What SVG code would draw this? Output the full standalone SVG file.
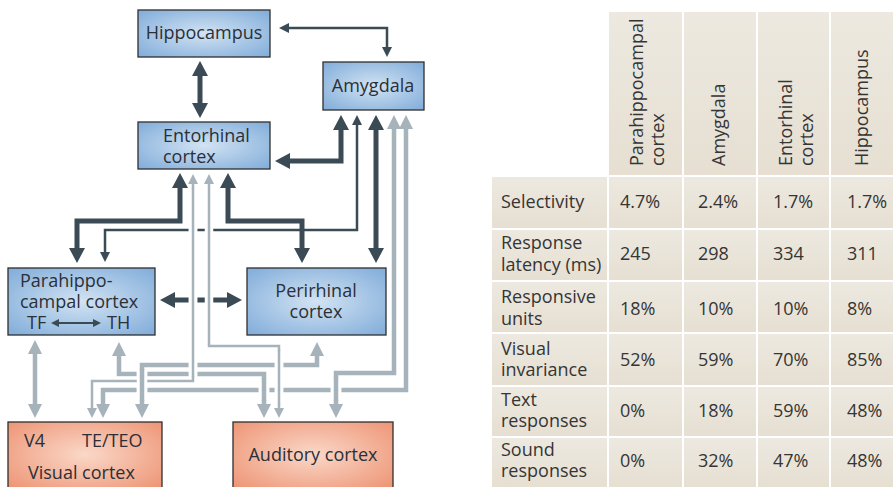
<svg xmlns="http://www.w3.org/2000/svg" width="893" height="487" viewBox="0 0 893 487">
<defs>
<radialGradient id="gBlue" cx="50%" cy="50%" r="65%">
<stop offset="0" stop-color="#d2e3f3"/><stop offset="1" stop-color="#86b0db"/>
</radialGradient>
<radialGradient id="gOrange" cx="50%" cy="45%" r="65%">
<stop offset="0" stop-color="#fad8c8"/><stop offset="1" stop-color="#ee9778"/>
</radialGradient>
<linearGradient id="gCell" x1="0" y1="0" x2="0" y2="1">
<stop offset="0" stop-color="#ede9e0"/><stop offset="1" stop-color="#e6dfd2"/>
</linearGradient>
<marker id="dT" markerUnits="userSpaceOnUse" markerWidth="20" markerHeight="20" refX="0" refY="8" orient="auto-start-reverse" viewBox="0 0 20 16"><path d="M0,0 L15,8 L0,16 Z" fill="#3a4b56"/></marker>
<marker id="dt" markerUnits="userSpaceOnUse" markerWidth="14" markerHeight="14" refX="0" refY="5" orient="auto-start-reverse" viewBox="0 0 14 10"><path d="M0,0 L10,5 L0,10 Z" fill="#3a4b56"/></marker>
<marker id="ds" markerUnits="userSpaceOnUse" markerWidth="10" markerHeight="10" refX="0" refY="4" orient="auto-start-reverse" viewBox="0 0 10 8"><path d="M0,0 L8,4 L0,8 Z" fill="#3a4b56"/></marker>
<marker id="lT" markerUnits="userSpaceOnUse" markerWidth="20" markerHeight="20" refX="0" refY="7" orient="auto-start-reverse" viewBox="0 0 20 14"><path d="M0,0 L14,7 L0,14 Z" fill="#a7b3bb"/></marker>
<marker id="lt" markerUnits="userSpaceOnUse" markerWidth="14" markerHeight="14" refX="0" refY="5" orient="auto-start-reverse" viewBox="0 0 14 10"><path d="M0,0 L10,5 L0,10 Z" fill="#a7b3bb"/></marker>
</defs>
<style>
.box{fill:url(#gBlue);stroke:#2e2e2e;stroke-width:1.3}
.obox{fill:url(#gOrange);stroke:#2e2e2e;stroke-width:1.3}
.t{font-family:"Open Sans","DejaVu Sans",sans-serif;font-size:18px;fill:#2b3037}
.tc{text-anchor:middle}
.dT{fill:none;stroke:#3a4b56;stroke-width:5;marker-start:url(#dT);marker-end:url(#dT)}
.dt{fill:none;stroke:#3a4b56;stroke-width:2.5;marker-start:url(#dt);marker-end:url(#dt)}
.lT{fill:none;stroke:#a7b3bb;stroke-width:4.5}
.lTm{marker-start:url(#lT);marker-end:url(#lT)}
.lt{fill:none;stroke:#a7b3bb;stroke-width:2.5}
.ltm{marker-start:url(#lt);marker-end:url(#lt)}
.hT{fill:none;stroke:#fff;stroke-width:10.5}
.ht{fill:none;stroke:#fff;stroke-width:8.5}
.cell{fill:url(#gCell)}
.tt{font-family:"Open Sans","DejaVu Sans",sans-serif;font-size:18px;fill:#353535}
</style>

<g id="hippocampus"><rect class="box" x="138" y="10" width="132" height="47"/><text class="t tc" x="204" y="39">Hippocampus</text></g>
<g id="amygdala"><rect class="box" x="323" y="62" width="101" height="48"/><text class="t tc" x="373" y="92">Amygdala</text></g>
<g id="entorhinal"><rect class="box" x="138" y="122" width="132" height="47"/><text class="t" x="163" y="142">Entorhinal<tspan x="163" y="163">cortex</tspan></text></g>
<g id="parahippocampal"><rect class="box" x="8" y="268" width="147" height="67"/><text class="t" x="20" y="287">Parahippo-<tspan x="20" y="308">campal cortex</tspan><tspan x="27" y="329">TF</tspan><tspan x="107" y="329">TH</tspan></text><path d="M59,323 H93" fill="none" stroke="#3a4b56" stroke-width="2" marker-start="url(#ds)" marker-end="url(#ds)"/></g>
<g id="perirhinal"><rect class="box" x="247" y="268" width="139" height="67"/><text class="t tc" x="316" y="297">Perirhinal<tspan x="316" y="318">cortex</tspan></text></g>
<g id="visual"><rect class="obox" x="8" y="422" width="154" height="72"/><text class="t" x="24" y="447">V4<tspan x="82" y="447">TE/TEO</tspan><tspan x="28" y="479">Visual cortex</tspan></text></g>
<g id="auditory"><rect class="obox" x="233" y="422" width="160" height="72"/><text class="t tc" x="313" y="461">Auditory cortex</text></g>

<g id="connectors">
<path class="dT" d="M200,76 V103"/>
<path class="dt" d="M289,28 H387 V47"/>
<path class="dT" d="M290,161 H341 V130"/>
<path class="dt" d="M357,125 V230 H105 V252"/>
<path class="dT" d="M180,188 V221 H77 V248"/>
<path class="dT" d="M228,188 V221 H302 V248"/>
<path class="dT" d="M376,130 V248"/>
<path class="dT" d="M175,300 H227"/>

<path class="hT" d="M406,129 V390 H103 V404"/><path class="lT lTm" d="M406,129 V390 H103 V404"/>
<path class="hT" d="M394,129 V373 H336 V404"/><path class="lT lTm" d="M394,129 V373 H336 V404"/>
<path class="hT" d="M119,356 V374 H264 V404"/><path class="lT lTm" d="M119,356 V374 H264 V404"/>
<path class="hT" d="M317,356 V365 H142 V404"/><path class="lT lTm" d="M317,356 V365 H142 V404"/>
<path class="ht" d="M209,184 V346 H279 V408"/><path class="lt ltm" d="M209,184 V346 H279 V408"/>
<path class="ht" d="M193,184 V381 H92 V408"/><path class="lt ltm" d="M193,184 V381 H92 V408"/>
<path class="lT lTm" d="M35,354 V404"/>

<path class="hT" d="M142,370 V400"/><path class="lT" d="M142,369 V401"/>
<path class="hT" d="M264,379 V400"/><path class="lT" d="M264,378 V401"/>
<path class="hT" d="M336,378 V400"/><path class="lT" d="M336,377 V401"/>
<path class="ht" d="M279,351 V404"/><path class="lt" d="M279,350 V405"/>
<path class="ht" d="M193,189 V376"/><path class="lt" d="M193,188 V377"/>
</g>

<g id="table">
<rect class="cell" x="609" y="12" width="73" height="163"/>
<rect class="cell" x="684" y="12" width="72" height="163"/>
<rect class="cell" x="758" y="12" width="71" height="163"/>
<rect class="cell" x="831" y="12" width="62" height="163"/>
<text class="tt" transform="translate(643,166) rotate(-90)">Parahippocampal<tspan x="0" y="21">cortex</tspan></text>
<text class="tt" transform="translate(725,166) rotate(-90)">Amygdala</text>
<text class="tt" transform="translate(792,166) rotate(-90)">Entorhinal<tspan x="0" y="21">cortex</tspan></text>
<text class="tt" transform="translate(868,166) rotate(-90)">Hippocampus</text>

<g id="rows">
<rect class="cell" x="492" y="177" width="115" height="51"/><rect class="cell" x="609" y="177" width="73" height="51"/><rect class="cell" x="684" y="177" width="72" height="51"/><rect class="cell" x="758" y="177" width="71" height="51"/><rect class="cell" x="831" y="177" width="62" height="51"/>
<rect class="cell" x="492" y="230" width="115" height="50"/><rect class="cell" x="609" y="230" width="73" height="50"/><rect class="cell" x="684" y="230" width="72" height="50"/><rect class="cell" x="758" y="230" width="71" height="50"/><rect class="cell" x="831" y="230" width="62" height="50"/>
<rect class="cell" x="492" y="282" width="115" height="50"/><rect class="cell" x="609" y="282" width="73" height="50"/><rect class="cell" x="684" y="282" width="72" height="50"/><rect class="cell" x="758" y="282" width="71" height="50"/><rect class="cell" x="831" y="282" width="62" height="50"/>
<rect class="cell" x="492" y="334" width="115" height="51"/><rect class="cell" x="609" y="334" width="73" height="51"/><rect class="cell" x="684" y="334" width="72" height="51"/><rect class="cell" x="758" y="334" width="71" height="51"/><rect class="cell" x="831" y="334" width="62" height="51"/>
<rect class="cell" x="492" y="387" width="115" height="49"/><rect class="cell" x="609" y="387" width="73" height="49"/><rect class="cell" x="684" y="387" width="72" height="49"/><rect class="cell" x="758" y="387" width="71" height="49"/><rect class="cell" x="831" y="387" width="62" height="49"/>
<rect class="cell" x="492" y="438" width="115" height="49"/><rect class="cell" x="609" y="438" width="73" height="49"/><rect class="cell" x="684" y="438" width="72" height="49"/><rect class="cell" x="758" y="438" width="71" height="49"/><rect class="cell" x="831" y="438" width="62" height="49"/>
</g>
<g id="rowtext">
<text class="tt" x="501" y="208">Selectivity</text>
<text class="tt" x="620" y="208">4.7%</text><text class="tt" x="698" y="208">2.4%</text><text class="tt" x="773" y="208">1.7%</text><text class="tt" x="847" y="208">1.7%</text>
<text class="tt" x="501" y="249">Response<tspan x="501" y="271">latency (ms)</tspan></text>
<text class="tt" x="620" y="260">245</text><text class="tt" x="698" y="260">298</text><text class="tt" x="773" y="260">334</text><text class="tt" x="847" y="260">311</text>
<text class="tt" x="501" y="303">Responsive<tspan x="501" y="325">units</tspan></text>
<text class="tt" x="620" y="315">18%</text><text class="tt" x="698" y="315">10%</text><text class="tt" x="773" y="315">10%</text><text class="tt" x="847" y="315">8%</text>
<text class="tt" x="501" y="355">Visual<tspan x="501" y="376">invariance</tspan></text>
<text class="tt" x="620" y="366">52%</text><text class="tt" x="698" y="366">59%</text><text class="tt" x="773" y="366">70%</text><text class="tt" x="847" y="366">85%</text>
<text class="tt" x="501" y="406">Text<tspan x="501" y="427">responses</tspan></text>
<text class="tt" x="620" y="417">0%</text><text class="tt" x="698" y="417">18%</text><text class="tt" x="773" y="417">59%</text><text class="tt" x="847" y="417">48%</text>
<text class="tt" x="501" y="456">Sound<tspan x="501" y="477">responses</tspan></text>
<text class="tt" x="620" y="467">0%</text><text class="tt" x="698" y="467">32%</text><text class="tt" x="773" y="467">47%</text><text class="tt" x="847" y="467">48%</text>
</g>
</g>
</svg>
